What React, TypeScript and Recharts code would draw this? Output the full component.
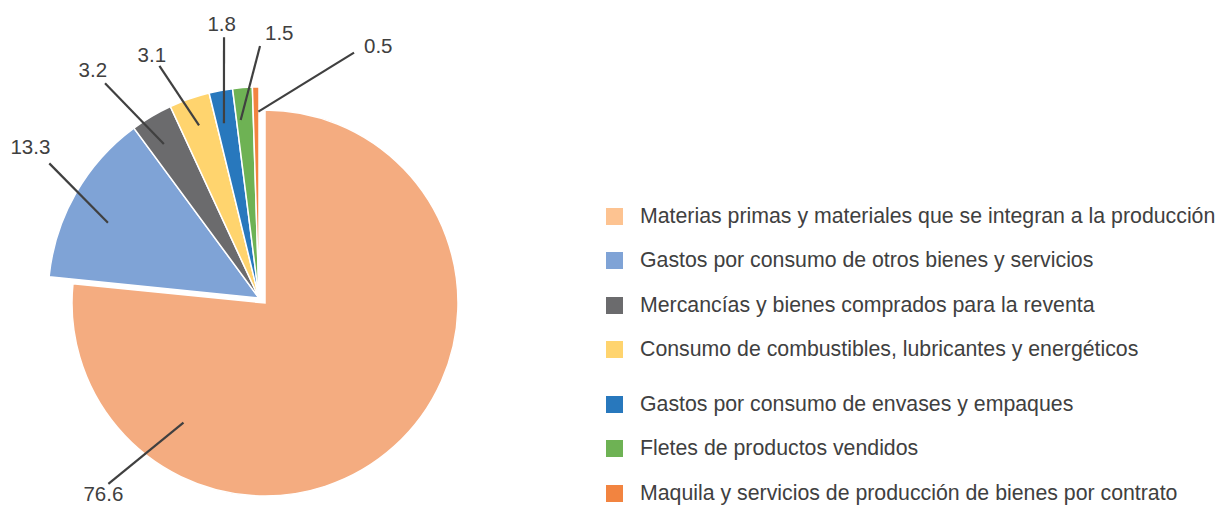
import { PieChart, Pie, Cell, Legend } from "recharts";

const CATEGORIES = [
  "Materias primas y materiales que se integran a la producción",
  "Gastos por consumo de otros bienes y servicios",
  "Mercancías y bienes comprados para la reventa",
  "Consumo de combustibles, lubricantes y energéticos",
  "Gastos por consumo de envases y empaques",
  "Fletes de productos vendidos",
  "Maquila y servicios de producción de bienes por contrato",
];
const VALUES = [76.6, 13.3, 3.2, 3.1, 1.8, 1.5, 0.5];
const PIE_COLORS = ["#F4AC80", "#7FA3D6", "#6B6B6D", "#FFD46E", "#2878BD", "#6EB254", "#F28440"];
const LEGEND_COLORS = ["#FDC391", "#7FA3D6", "#6B6B6D", "#FFD46E", "#2878BD", "#6EB254", "#F28440"];

const data = CATEGORIES.map((name, i) => ({ name, value: VALUES[i] }));

const FONT = "'Liberation Sans', Arial, sans-serif";
const TEXT = "#404040";
const RAD = Math.PI / 180;

// leader line placement, angles are clockwise offsets (deg) from the slice midAngle
const LABEL_LAYOUT = [
  { r0: 0.75, a0: 76.4, r1: 1.24, a1: 83.0, anchor: "middle", dx: -5, dy: 17 },
  { r0: 0.8, a0: -3.2, r1: 1.181, a1: 3.0, anchor: "end", dx: 1, dy: -9 },
  { r0: 0.858, a0: -1.1, r1: 1.252, a1: -5.05, anchor: "end", dx: 2, dy: -6.6 },
  { r0: 0.866, a0: 0.1, r1: 1.197, a1: -3.96, anchor: "middle", dx: -7.6, dy: -4.3 },
  { r0: 0.845, a0: -0.9, r1: 1.247, a1: 2.8, anchor: "middle", dx: -2.3, dy: -6.6 },
  { r0: 0.848, a0: -1.37, r1: 1.194, a1: 4.73, anchor: "start", dx: 5, dy: -6 },
  { r0: 0.883, a0: 0.7, r1: 1.247, a1: 22.07, anchor: "start", dx: 10, dy: 0.7 },
];

const polar = (cx: number, cy: number, r: number, angle: number) => ({
  x: cx + r * Math.cos(angle * RAD),
  y: cy - r * Math.sin(angle * RAD),
});

const makeLabel = (which: "main" | "rest") => (props: any) => {
  const { cx, cy, midAngle, outerRadius, index } = props;
  if (which === "main" && index !== 0) return null;
  if (which === "rest" && index === 0) return null;
  const l = LABEL_LAYOUT[index];
  const p0 = polar(cx, cy, outerRadius * l.r0, midAngle - l.a0);
  const p1 = polar(cx, cy, outerRadius * l.r1, midAngle - l.a1);
  return (
    <g key={`lbl-${which}-${index}`}>
      <line x1={p0.x} y1={p0.y} x2={p1.x} y2={p1.y} stroke={TEXT} strokeWidth={2.2} />
      <text
        x={p1.x + l.dx}
        y={p1.y + l.dy}
        textAnchor={l.anchor as any}
        fill={TEXT}
        fontSize={20.5}
        fontFamily={FONT}
      >
        {VALUES[index]}
      </text>
    </g>
  );
};

const renderLegend = () => (
  <div style={{ fontFamily: FONT, fontSize: 21.3, color: TEXT }}>
    {CATEGORIES.map((c, i) => (
      <div
        key={c}
        style={{
          height: 44.5,
          marginTop: i === 4 ? 10 : 0,
          display: "flex",
          alignItems: "center",
          whiteSpace: "nowrap",
        }}
      >
        <span
          style={{
            width: 17,
            height: 17,
            background: LEGEND_COLORS[i],
            display: "inline-block",
            marginRight: 17,
            flexShrink: 0,
          }}
        />
        <span>{c}</span>
      </div>
    ))}
  </div>
);

export default function App() {
  return (
    <div style={{ position: "absolute", left: 0, top: 0, background: "#fff" }}>
      <PieChart width={1219} height={506} margin={{ top: 0, right: 0, bottom: 0, left: 0 }}>
        {/* the big slice sits on its own, the rest is pulled out as a group */}
        <Pie
          data={data}
          dataKey="value"
          nameKey="name"
          cx={265}
          cy={303}
          outerRadius={193}
          startAngle={90}
          endAngle={-270}
          label={makeLabel("main")}
          labelLine={false}
          isAnimationActive={false}
        >
          {data.map((d, i) => (
            <Cell
              key={d.name}
              fill={i === 0 ? PIE_COLORS[0] : "transparent"}
              stroke={i === 0 ? "#fff" : "none"}
              strokeWidth={1.5}
            />
          ))}
        </Pie>
        <Pie
          data={data}
          dataKey="value"
          nameKey="name"
          cx={259}
          cy={298}
          outerRadius={211}
          startAngle={90}
          endAngle={-270}
          label={makeLabel("rest")}
          labelLine={false}
          isAnimationActive={false}
        >
          {data.map((d, i) => (
            <Cell
              key={d.name}
              fill={i === 0 ? "transparent" : PIE_COLORS[i]}
              stroke={i === 0 ? "none" : "#fff"}
              strokeWidth={1.5}
            />
          ))}
        </Pie>
        <Legend
          content={renderLegend}
          layout="vertical"
          wrapperStyle={{ position: "absolute", left: 606, top: 193.75, width: 613 }}
        />
      </PieChart>
    </div>
  );
}
